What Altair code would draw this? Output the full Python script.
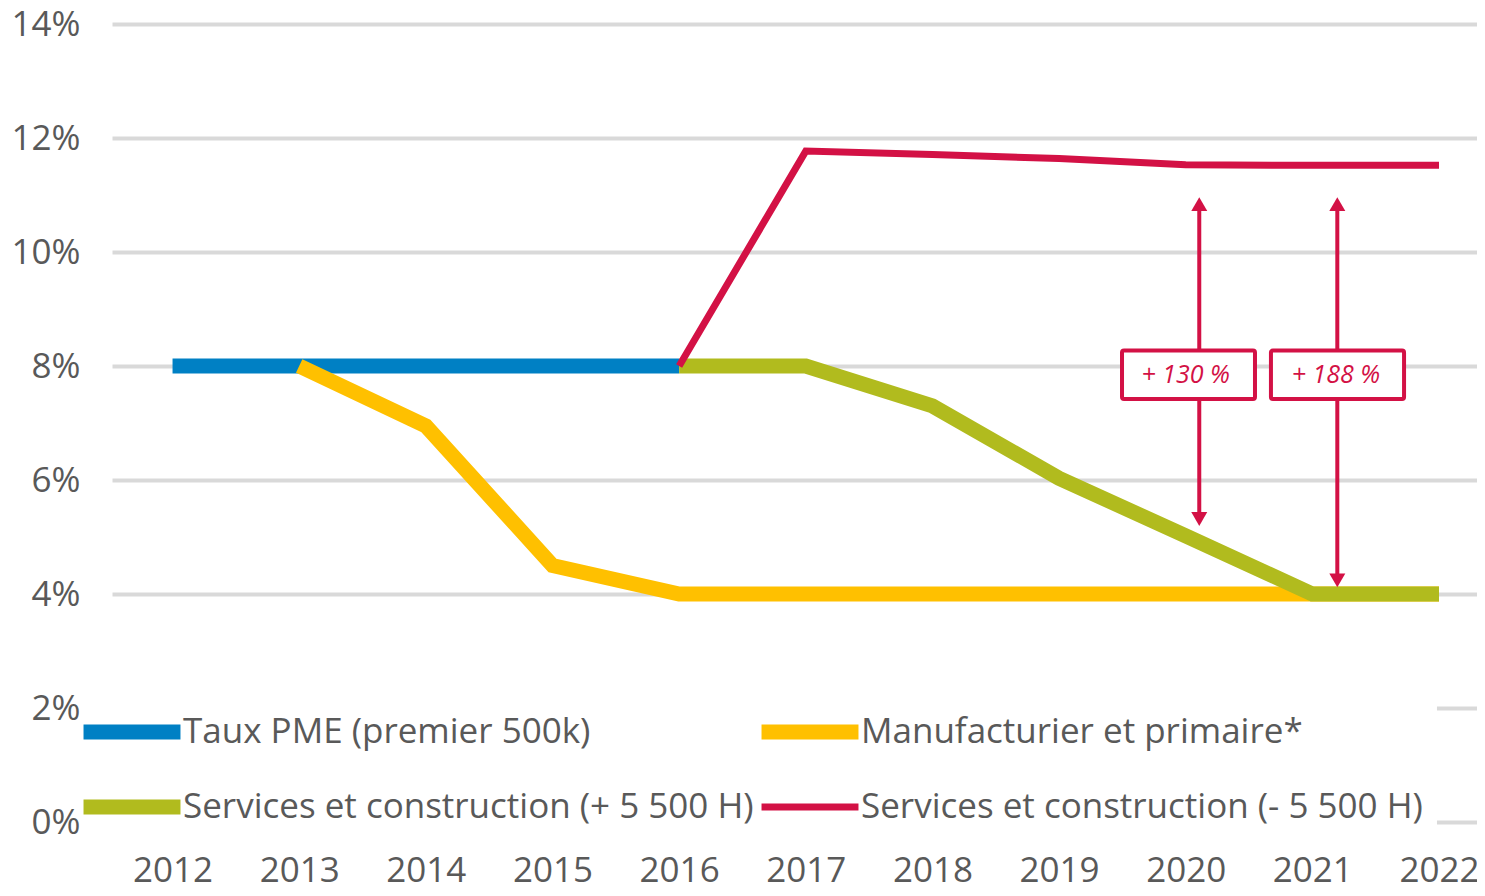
import altair as alt
import pandas as pd

# ---- data ----
series_names = [
    "Taux PME (premier 500k)",
    "Manufacturier et primaire*",
    "Services et construction (+ 5 500 H)",
    "Services et construction (- 5 500 H)",
]
series_colors = ["#0080C4", "#FFC000", "#B1BB1E", "#D31145"]
series_widths = [15, 15, 15, 7]

years_pme = [2012, 2013, 2014, 2015, 2016]
taux_pme = [8.0, 8.0, 8.0, 8.0, 8.0]

years_manuf = [2013, 2014, 2015, 2016, 2017, 2018, 2019, 2020, 2021, 2022]
manuf = [8.0, 6.95, 4.5, 4.0, 4.0, 4.0, 4.0, 4.0, 4.0, 4.0]

years_serv = [2016, 2017, 2018, 2019, 2020, 2021, 2022]
serv_plus = [8.0, 8.0, 7.3, 6.03, 5.02, 4.0, 4.0]
serv_minus = [8.0, 11.77, 11.71, 11.64, 11.53, 11.52, 11.52]

x_ticks = list(range(2012, 2023))
y_ticks = [0, 2, 4, 6, 8, 10, 12, 14]

# annotations (arrows + boxes)
arrow_x = [2020.107, 2021.197]
arrow_top = [10.75, 10.75]
arrow_bottom = [5.385, 4.31]
head_up_y = [10.84, 10.84]
head_down_y = [5.315, 4.24]
box_x1 = [2019.497, 2020.673]
box_x2 = [2020.547, 2021.724]
box_y1 = [7.42, 7.42]
box_y2 = [8.27, 8.27]
box_text_x = [2020.0, 2021.186]
box_text_y = [7.85, 7.85]
box_labels = ["+ 130 %", "+ 188 %"]

# white area behind the legend (hides the lower gridlines)
legend_bg_x = [2011.522]
legend_bg_x2 = [2021.984]
legend_bg_y = [2.12]
legend_bg_y2 = [-0.12]

RED = "#D31145"
FONT = "Open Sans"
GREY = "#595959"

# ---- tables ----
rows = []
for y, v in zip(years_pme, taux_pme):
    rows.append({"year": y, "value": v, "series": series_names[0]})
for y, v in zip(years_manuf, manuf):
    rows.append({"year": y, "value": v, "series": series_names[1]})
for y, v in zip(years_serv, serv_plus):
    rows.append({"year": y, "value": v, "series": series_names[2]})
for y, v in zip(years_serv, serv_minus):
    rows.append({"year": y, "value": v, "series": series_names[3]})
df = pd.DataFrame(rows)

arrows = pd.DataFrame({"year": arrow_x, "value": arrow_top, "value2": arrow_bottom})
heads = pd.DataFrame({
    "year": arrow_x + arrow_x,
    "value": head_up_y + head_down_y,
    "dir": ["up", "up", "down", "down"],
})
boxes = pd.DataFrame({"year": box_x1, "year2": box_x2, "value": box_y1, "value2": box_y2})
texts = pd.DataFrame({"year": box_text_x, "value": box_text_y, "label": box_labels})
legend_bg = pd.DataFrame({"year": legend_bg_x, "year2": legend_bg_x2,
                          "value": legend_bg_y, "value2": legend_bg_y2})

x_scale = alt.Scale(domain=[2011.522, 2022.30], nice=False, zero=False)
y_scale = alt.Scale(domain=[0, 14], nice=False, zero=False)

x_axis = alt.Axis(
    values=x_ticks, format="d", grid=False, domain=False, ticks=False,
    labelFontSize=35, labelFont=FONT, labelColor=GREY, labelPadding=31,
    labelFlush=False, labelOverlap=False, title=None,
)
y_axis = alt.Axis(
    values=y_ticks, labelExpr="datum.value + '%'", grid=True,
    gridColor="#D9D9D9", gridWidth=4, domain=False, ticks=False,
    labelFontSize=35, labelFont=FONT, labelColor=GREY, labelPadding=32,
    title=None,
)

X = alt.X("year:Q", scale=x_scale, axis=x_axis)
Y = alt.Y("value:Q", scale=y_scale, axis=y_axis)

color = alt.Color("series:N", scale=alt.Scale(domain=series_names, range=series_colors),
                  legend=alt.Legend(title=None))
swidth = alt.StrokeWidth("series:N",
                         scale=alt.Scale(type="ordinal", domain=series_names, range=series_widths),
                         legend=alt.Legend(title=None))

bg = alt.Chart(legend_bg).mark_rect(fill="white").encode(
    x="year:Q", x2="year2:Q", y="value:Q", y2="value2:Q"
)

base = alt.Chart(df).mark_line(strokeCap="butt").encode(
    x=X, y=Y, color=color, strokeWidth=swidth, order="year:Q"
)
line_layers = [base.transform_filter(alt.datum.series == s) for s in series_names]

shafts = alt.Chart(arrows).mark_rule(color=RED, strokeWidth=4).encode(
    x="year:Q", y="value:Q", y2="value2:Q"
)
box_marks = alt.Chart(boxes).mark_rect(
    fill="white", stroke=RED, strokeWidth=4, cornerRadius=2
).encode(x="year:Q", x2="year2:Q", y="value:Q", y2="value2:Q")
text_marks = alt.Chart(texts).mark_text(
    color=RED, font=FONT, fontSize=25, fontStyle="italic", align="center", baseline="middle"
).encode(x="year:Q", y="value:Q", text="label:N")
head_marks = alt.Chart(heads).mark_point(filled=True, size=256, opacity=1, color=RED).encode(
    x="year:Q", y="value:Q",
    shape=alt.Shape("dir:N", scale=alt.Scale(domain=["up", "down"],
                                             range=["triangle-up", "triangle-down"]),
                    legend=None),
)

chart = alt.layer(bg, *line_layers, shafts, box_marks, text_marks, head_marks).properties(
    width=1365, height=798,
    padding={"left": 104, "top": 16, "right": 0, "bottom": 61},
    autosize=alt.AutoSizeParams(type="none"),
).configure_view(stroke=None).configure_legend(
    orient="none", direction="horizontal", legendX=-36, legendY=688, columns=2,
    columnPadding={"expr": "-37"}, rowPadding=35, clipHeight=40,
    symbolType="stroke", symbolSize=9400, labelOffset={"expr": "-5"},
    labelFontSize=35, labelFont=FONT, labelColor=GREY, labelLimit=900,
    padding=0, symbolOpacity=1,
)

chart.save("out.html", embed_options={"renderer": "svg", "actions": False})
